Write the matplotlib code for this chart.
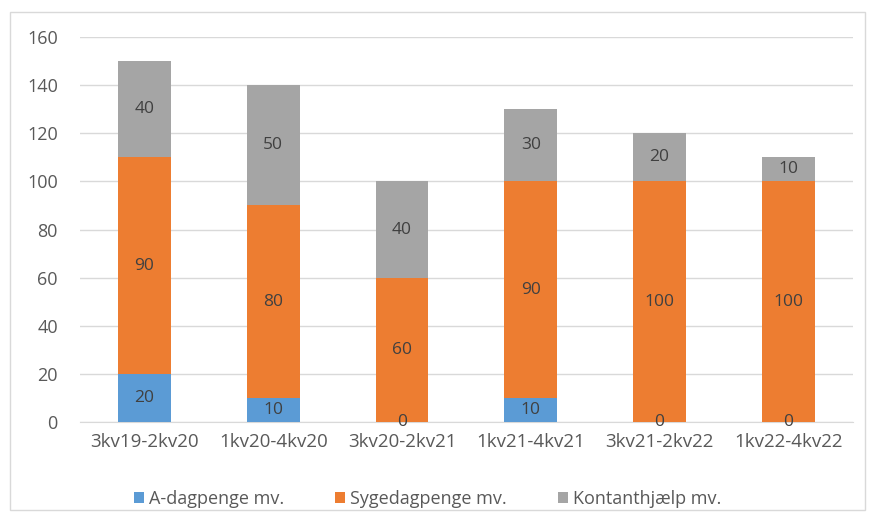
import matplotlib
matplotlib.use("Agg")
import matplotlib.pyplot as plt
from matplotlib.patches import Rectangle
import numpy as np

# data
categories = ["3kv19-2kv20", "1kv20-4kv20", "3kv20-2kv21", "1kv21-4kv21", "3kv21-2kv22", "1kv22-4kv22"]
a_dagpenge = [20, 10, 0, 10, 0, 0]
sygedagpenge = [90, 80, 60, 90, 100, 100]
kontanthjaelp = [40, 50, 40, 30, 20, 10]
series_names = ["A-dagpenge mv.", "Sygedagpenge mv.", "Kontanthjælp mv."]
colors = ["#5B9BD5", "#ED7D31", "#A5A5A5"]

plt.rcParams['font.family'] = ['Open Sans', 'DejaVu Sans']
text_color = "#595959"

fig = plt.figure(figsize=(8.7, 5.24), dpi=100)
ax = fig.add_axes([0.092, 0.195, 0.888, 0.734])

# chart frame
fig.patches.append(Rectangle((10 / 870, 14 / 524), 855 / 870, 498 / 524, transform=fig.transFigure,
                             fill=False, edgecolor="#D9D9D9", linewidth=1))

x = np.arange(len(categories))
bottom = np.zeros(len(categories))
for vals, name, col in zip([a_dagpenge, sygedagpenge, kontanthjaelp], series_names, colors):
    bars = ax.bar(x, vals, 0.41, bottom=bottom, color=col, label=name, zorder=3)
    for b, v, base in zip(bars, vals, bottom):
        if v == 0 and name != series_names[0]:
            continue
        ax.text(b.get_x() + b.get_width() / 2, base + v / 2, str(v), ha="center", va="center",
                fontsize=12.5, color="#404040", zorder=4)
    bottom += np.array(vals)

ax.set_xlim(-0.5, len(categories) - 0.5)
ax.set_ylim(0, 160)
ax.set_yticks(range(0, 161, 20))
ax.set_xticks(x)
ax.set_xticklabels(categories)
ax.grid(axis="y", color="#D9D9D9", linewidth=1, zorder=0)
for s in ["top", "right", "left"]:
    ax.spines[s].set_visible(False)
ax.spines["bottom"].set_color("#D9D9D9")
ax.tick_params(axis="both", length=0, labelsize=13, colors=text_color)
ax.tick_params(axis="x", labelsize=13.5, pad=8)
ax.tick_params(axis="y", pad=16)

ax.legend(loc="center", bbox_to_anchor=(0.45, -0.20), ncol=3, frameon=False, fontsize=13,
          handlelength=0.55, handleheight=0.55, handletextpad=0.3, columnspacing=2.8,
          labelcolor=text_color)

fig.savefig("out.png", dpi=100)
